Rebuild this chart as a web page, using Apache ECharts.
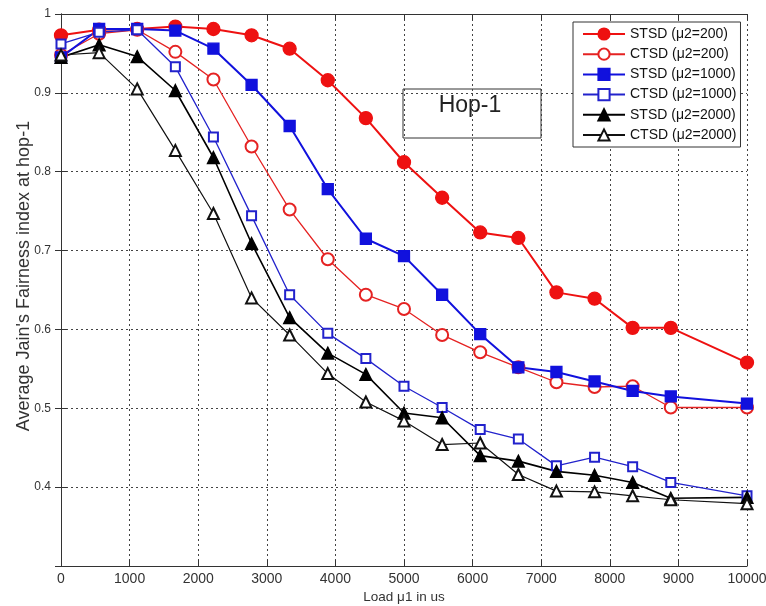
<!DOCTYPE html>
<html>
<head>
<meta charset="utf-8">
<script src="https://cdn.jsdelivr.net/npm/echarts@6/dist/echarts.min.js"></script>
<style>
	html, body { margin: 0; padding: 0; background: #fff; }
	#hop-one { width: 766px; height: 606px; }
</style>
</head>
<body>
<div id="hop-one"></div>
<script>
// load points (us)
var loads = [0, 556, 1111, 1667, 2222, 2778, 3333, 3889, 4444, 5000, 5556, 6111, 6667, 7222, 7778, 8333, 8889, 10000];
var xTicks = [0, 1000, 2000, 3000, 4000, 5000, 6000, 7000, 8000, 9000, 10000];
var yTicks = [0.4, 0.5, 0.6, 0.7, 0.8, 0.9, 1];

var stsd200 = [0.973, 0.980, 0.981, 0.984, 0.981, 0.973, 0.956, 0.916, 0.868, 0.812, 0.767, 0.723, 0.716, 0.647, 0.639, 0.602, 0.602, 0.558];
var ctsd200 = [0.948, 0.975, 0.980, 0.952, 0.917, 0.832, 0.752, 0.689, 0.644, 0.626, 0.593, 0.571, 0.552, 0.533, 0.527, 0.528, 0.501, 0.501];
var stsd1000 = [0.945, 0.981, 0.981, 0.979, 0.956, 0.910, 0.858, 0.778, 0.715, 0.693, 0.644, 0.594, 0.552, 0.546, 0.534, 0.522, 0.515, 0.506];
var ctsd1000 = [0.962, 0.977, 0.980, 0.933, 0.844, 0.744, 0.644, 0.595, 0.563, 0.528, 0.501, 0.473, 0.461, 0.427, 0.438, 0.426, 0.406, 0.389];
var stsd2000 = [0.945, 0.961, 0.946, 0.903, 0.818, 0.709, 0.615, 0.570, 0.543, 0.494, 0.488, 0.440, 0.433, 0.420, 0.415, 0.406, 0.386, 0.387];
var ctsd2000 = [0.948, 0.951, 0.905, 0.827, 0.747, 0.640, 0.593, 0.544, 0.508, 0.484, 0.454, 0.456, 0.416, 0.395, 0.394, 0.389, 0.384, 0.379];

var seriesNames = ['STSD (μ2=200)', 'CTSD (μ2=200)', 'STSD (μ2=1000)', 'CTSD (μ2=1000)', 'STSD (μ2=2000)', 'CTSD (μ2=2000)'];

function pairs(vals) {
	return loads.map(function(x, i) { return [x, vals[i]]; });
}

var dom = document.getElementById("hop-one");
var myChart = echarts.init(dom, null, { renderer: 'canvas' });
var option = null;
var font = '"Liberation Sans", Arial, sans-serif';
var boxColor = '#333';
var gridDash = { color: '#444', width: 1, type: [2, 3] };

function mkLine(name, vals, color, symbol, size, width) {
	return {
		name: name,
		type: 'line',
		data: pairs(vals),
		symbol: symbol,
		symbolSize: size,
		lineStyle: { color: color, width: width },
		itemStyle: { color: color, borderColor: color, borderWidth: 1.3 },
		emphasis: { disabled: true },
		animation: false
	};
}

option = {
	backgroundColor: '#fff',
	textStyle: { fontFamily: font },
	legend: {
		orient: 'vertical',
		left: 573,
		top: 22,
		data: seriesNames,
		itemWidth: 42,
		itemHeight: 14,
		itemGap: 6.2,
		padding: [5, 4, 5, 9],
		backgroundColor: '#fff',
		borderColor: boxColor,
		borderWidth: 1,
		borderRadius: 0,
		textStyle: { fontSize: 14, color: '#111', fontFamily: font },
		selectedMode: false
	},
	grid: {
		left: 61,
		top: 14,
		right: 19,
		bottom: 40,
		outerBoundsMode: 'none',
		show: false
	},
	xAxis: [{
		type: 'value',
		min: xTicks[0],
		max: xTicks[xTicks.length - 1],
		interval: 1000,
		name: 'Load μ1 in us',
		nameLocation: 'middle',
		nameGap: 24,
		nameMoveOverlap: false,
		nameTextStyle: { fontSize: 13.5, color: '#333', fontFamily: font },
		axisLine: { show: true, onZero: false, lineStyle: { color: boxColor, width: 1 } },
		axisTick: { show: true, inside: true, length: 6, lineStyle: { color: boxColor } },
		axisLabel: {
			fontSize: 14,
			color: '#333',
			margin: 6,
			fontFamily: font,
			formatter: function(v) { return String(Math.round(v)); }
		},
		splitLine: { show: true, lineStyle: gridDash }
	}, {
		type: 'value',
		position: 'top',
		min: xTicks[0],
		max: xTicks[xTicks.length - 1],
		interval: 1000,
		axisLine: { show: true, lineStyle: { color: boxColor, width: 1 } },
		axisTick: { show: true, inside: true, length: 6, lineStyle: { color: boxColor } },
		axisLabel: { show: false },
		splitLine: { show: false }
	}],
	yAxis: [{
		type: 'value',
		min: 0.3,
		max: yTicks[yTicks.length - 1],
		interval: 0.1,
		name: "Average Jain's Fairness index at hop-1",
		nameLocation: 'middle',
		nameGap: 28,
		nameMoveOverlap: false,
		nameTextStyle: { fontSize: 18, color: '#333', fontFamily: font, padding: [0, 0, 0, 28] },
		axisLine: { show: true, onZero: false, lineStyle: { color: boxColor, width: 1 } },
		axisTick: { show: true, inside: true, length: 6, lineStyle: { color: boxColor } },
		axisLabel: {
			fontSize: 12,
			color: '#333',
			margin: 10,
			fontFamily: font,
			showMinLabel: false,
			formatter: function(v) { return String(+v.toFixed(1)); }
		},
		splitLine: { show: true, lineStyle: gridDash }
	}, {
		type: 'value',
		position: 'right',
		min: 0.3,
		max: yTicks[yTicks.length - 1],
		interval: 0.1,
		axisLine: { show: true, lineStyle: { color: boxColor, width: 1 } },
		axisTick: { show: true, inside: true, length: 6, lineStyle: { color: boxColor } },
		axisLabel: { show: false },
		splitLine: { show: false }
	}],
	graphic: [{
		type: 'rect',
		shape: { x: 403, y: 89, width: 138, height: 49 },
		style: { fill: 'none', stroke: boxColor, lineWidth: 1 },
		z: 10
	}, {
		type: 'text',
		x: 470,
		y: 106,
		style: {
			text: 'Hop-1',
			fontSize: 23,
			fontFamily: font,
			fill: '#222',
			align: 'center',
			verticalAlign: 'middle'
		},
		z: 10
	}],
	series: [
		mkLine(seriesNames[0], stsd200, '#ee1111', 'circle', 13, 2),
		mkLine(seriesNames[1], ctsd200, '#e52222', 'emptyCircle', 12, 1.3),
		mkLine(seriesNames[2], stsd1000, '#1111dd', 'rect', 11, 2),
		mkLine(seriesNames[3], ctsd1000, '#2222cc', 'emptyRect', 9, 1.3),
		mkLine(seriesNames[4], stsd2000, '#000000', 'triangle', 12, 1.6),
		mkLine(seriesNames[5], ctsd2000, '#111111', 'emptyTriangle', 11, 1.2)
	]
};

if(option && typeof option === "object") {
	myChart.setOption(option, true);
}
</script>
</body>
</html>
